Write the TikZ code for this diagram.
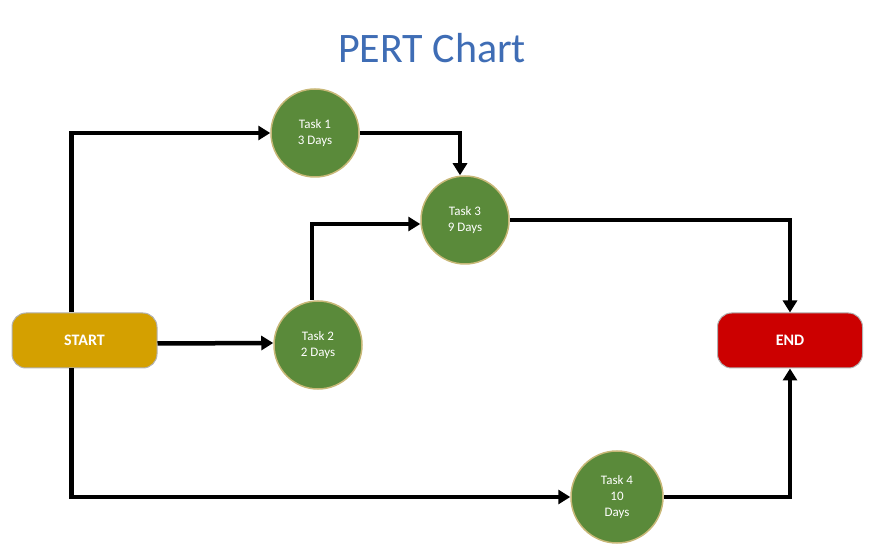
\documentclass[tikz,border=0pt]{standalone}
\usepackage{fontspec}
\setmainfont{Carlito}
\usetikzlibrary{calc,arrows.meta}
\definecolor{tgreen}{HTML}{5A8A3A}
\definecolor{tbord}{HTML}{C8B878}
\definecolor{sgold}{HTML}{D4A000}
\definecolor{ered}{HTML}{CC0000}
\definecolor{ttl}{HTML}{3F6DB5}
\begin{document}
\begin{tikzpicture}[x=1pt,y=-1pt,
  task/.style={circle,fill=tgreen,draw=tbord,line width=1.5pt,minimum size=88pt,inner sep=0pt,text=white,font=\fontsize{13}{16}\selectfont,align=center},
  term/.style={rounded corners=14pt,draw=gray!60,line width=1pt,minimum width=145pt,minimum height=55pt,text=white,font=\fontsize{16}{19}\selectfont\bfseries},
  arr/.style={line width=4.5pt,-{Triangle[length=12pt,width=14pt]}}]
\useasboundingbox (0,0) rectangle (876,553);
\node[text=ttl,font=\fontsize{42}{48}\selectfont] (title) at (432,48) {PERT Chart};
\node[term,fill=sgold] (start) at (84.5,340.5) {START};
\node[term,fill=ered] (end) at (790,340.5) {END};
\node[task] (t1) at (315,133) {Task 1\\3 Days};
\node[task] (t3) at (465,220) {Task 3\\9 Days};
\node[task] (t2) at (318,345) {Task 2\\2 Days};
\node[task,minimum size=92pt] (t4) at (617,497) {Task 4\\10\\Days};
\coordinate (s1) at ($(start.north west)+(60,0)$);
\coordinate (s2) at ($(start.south west)+(60,0)$);
\draw[arr] (s1) |- (t1.west);
\draw[arr] (t1.east) -| ($(t3.north)+(-5,0)$);
\draw[arr] ($(t2.north)+(-6,0)$) |- ($(t3.west)+(0,4)$);
\draw[arr] (t3.east) -| (end.north);
\draw[arr] ($(start.east)+(0,3)$) -- ($(t2.west)+(0,-2)$);
\draw[arr] (s2) |- (t4.west);
\draw[arr] (t4.east) -| (end.south);
\end{tikzpicture}
\end{document}
